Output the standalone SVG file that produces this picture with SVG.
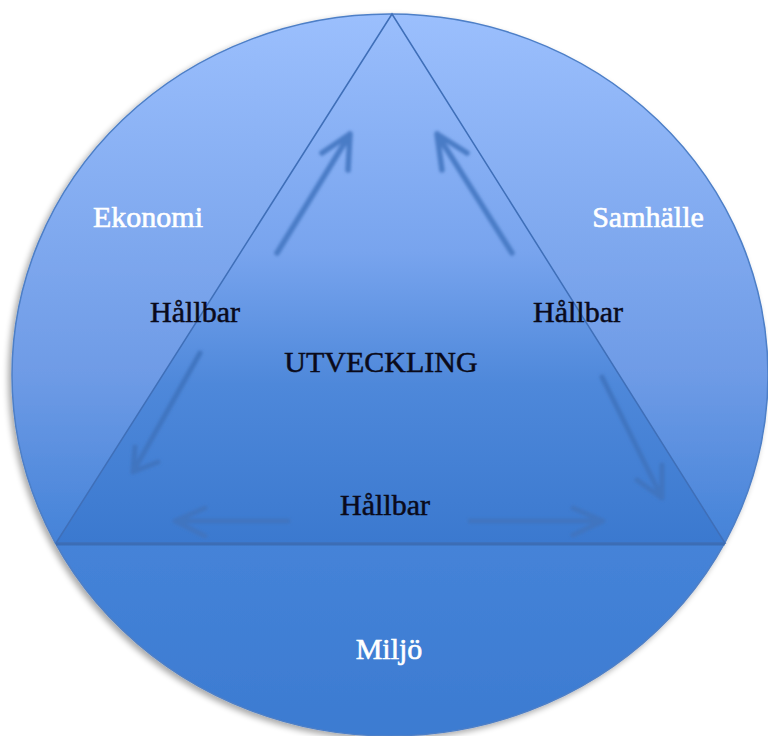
<svg xmlns="http://www.w3.org/2000/svg" width="768" height="736" viewBox="0 0 768 736">
<defs>
<linearGradient id="gc" x1="0" y1="0" x2="0" y2="1">
<stop offset="0" stop-color="#9bbffd"/>
<stop offset="0.5" stop-color="#6e9be6"/>
<stop offset="0.73" stop-color="#4583d8"/>
<stop offset="1" stop-color="#3c7bd1"/>
</linearGradient>
<linearGradient id="gt" x1="0" y1="0" x2="0" y2="1">
<stop offset="0" stop-color="#9abefc"/>
<stop offset="0.45" stop-color="#78a4ee"/>
<stop offset="0.7" stop-color="#4e88da"/>
<stop offset="1" stop-color="#3b79cf"/>
</linearGradient>
<filter id="shadow" x="-10%" y="-10%" width="120%" height="120%">
<feGaussianBlur in="SourceAlpha" stdDeviation="3"/>
<feOffset dx="-3" dy="3" result="b"/>
<feComponentTransfer><feFuncA type="linear" slope="0.35"/></feComponentTransfer>
<feMerge><feMergeNode/><feMergeNode in="SourceGraphic"/></feMerge>
</filter>
<filter id="blur" x="-20%" y="-20%" width="140%" height="140%">
<feGaussianBlur stdDeviation="1.4"/>
</filter>
</defs>
<style>
.lbl{font-family:"Liberation Serif","Times New Roman",serif;font-size:30px;text-anchor:middle}
.w{fill:#ffffff;stroke:#ffffff;stroke-width:0.6}
.k{fill:#0a0a1a;stroke:#0a0a1a;stroke-width:0.5}
.arr{fill:none;stroke:#4a7cc6;stroke-width:5.5;stroke-linecap:round;stroke-linejoin:round}
.faint{stroke:#3f74c0;stroke-width:5}
</style>
<g id="circle">
<ellipse cx="390" cy="375" rx="378" ry="361" fill="url(#gc)" stroke="#4d7fc7" stroke-width="1.5" filter="url(#shadow)"/>
</g>
<g id="triangle">
<polygon points="392,14 56,543 725,543" fill="url(#gt)" stroke="#3f6fb8" stroke-width="1.5"/>
<line x1="56" y1="544.5" x2="725" y2="544.5" stroke="#35609f" stroke-width="2" opacity="0.6"/>
</g>
<g id="connectors" filter="url(#blur)">
<path class="arr" d="M277,253 L350,134 M322,153 L350,134 L348,170"/>
<path class="arr" d="M512,253 L437,134 M467,153 L437,134 L442,170"/>
<path class="arr faint" d="M200,353 L133,472 M158,462 L133,472 L135,447"/>
<path class="arr faint" d="M288,521 L175,521 M205,508 L175,521 L205,536"/>
<path class="arr faint" d="M602,377 L662,498 M637,480 L662,498 L662,465"/>
<path class="arr faint" d="M470,521 L603,521 M573,508 L603,521 L573,535"/>
</g>
<g id="label-ekonomi"><text class="lbl w" x="148" y="227">Ekonomi</text></g>
<g id="label-samhalle"><text class="lbl w" x="648" y="227">Samhälle</text></g>
<g id="label-hallbar-left"><text class="lbl k" x="195" y="322">Hållbar</text></g>
<g id="label-hallbar-right"><text class="lbl k" x="578" y="322">Hållbar</text></g>
<g id="label-utveckling"><text class="lbl k" x="381" y="372">UTVECKLING</text></g>
<g id="label-hallbar-bottom"><text class="lbl k" x="385" y="515">Hållbar</text></g>
<g id="label-miljo"><text class="lbl w" x="389" y="659">Miljö</text></g>
</svg>
